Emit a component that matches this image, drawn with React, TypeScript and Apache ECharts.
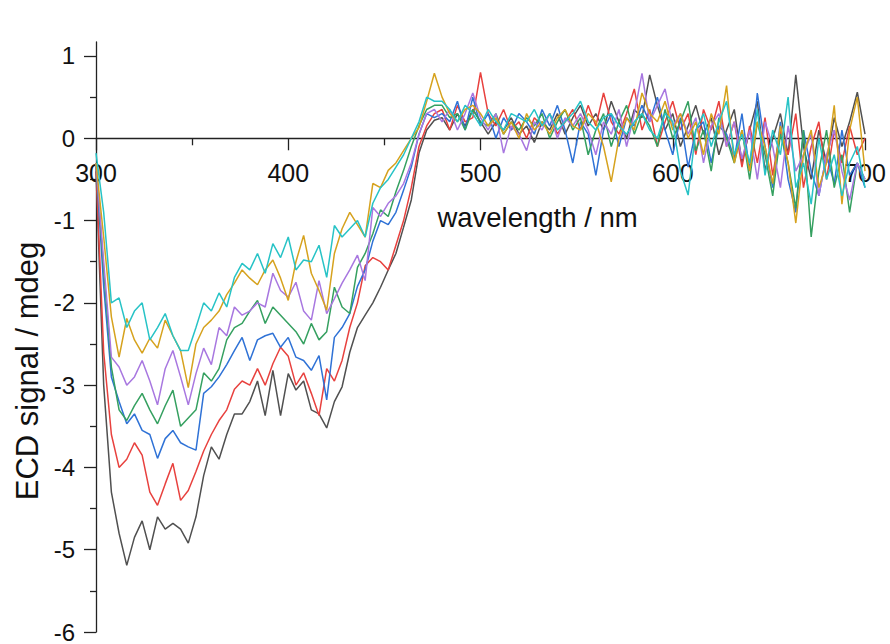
import React, { useEffect, useRef } from "react";
import * as echarts from "echarts";

const wavelengths = [
  300, 304, 308, 312, 316, 320, 324, 328, 332, 336, 340, 344, 348, 352, 356, 360, 364, 368, 372, 376,
  380, 384, 388, 392, 396, 400, 404, 408, 412, 416, 420, 424, 428, 432, 436, 440, 444, 448, 452, 456,
  460, 464, 468, 472, 476, 480, 484, 488, 492, 496, 500, 504, 508, 512, 516, 520, 524, 528, 532, 536,
  540, 544, 548, 552, 556, 560, 564, 568, 572, 576, 580, 584, 588, 592, 596, 600, 604, 608, 612, 616,
  620, 624, 628, 632, 636, 640, 644, 648, 652, 656, 660, 664, 668, 672, 676, 680, 684, 688, 692, 696, 700,
];

const xTicks = [300, 400, 500, 600, 700];
const yTicks = [-6, -5, -4, -3, -2, -1, 0, 1];
const yMinorTicks = [-5.5, -4.5, -3.5, -2.5, -1.5, -0.5, 0.5];

const seriesBlack = [
  -0.4, -3.0, -4.3, -4.8, -5.19, -4.85, -4.65, -5.0, -4.6, -4.75, -4.68, -4.75, -4.92, -4.6, -4.1,
  -3.75, -3.9, -3.6, -3.35, -3.35, -3.2, -2.95, -3.37, -2.82, -3.37, -2.86, -3.06, -2.95, -3.3, -3.35,
  -3.52, -3.2, -3.02, -2.6, -2.3, -2.15, -2.0, -1.81, -1.6, -1.4, -1.08, -0.75, -0.18, 0.1, 0.22,
  0.25, 0.1, 0.3, 0.15, 0.35, 0.2, 0.05, 0.2, 0.1, 0.25,
  0.05, 0.15, -0.05, 0.2, 0.1, 0.3, 0.05, 0.25, 0.4, 0.15,
  0.3, 0.1, 0.45, 0.2, 0.0, 0.35, 0.25, 0.77, 0.4, 0.1,
  0.3, -0.1, 0.15, 0.4, 0.05, 0.25, -0.2, 0.1, 0.35, -0.3,
  0.1, 0.45, -0.4, 0.0, 0.3, -0.2, 0.77, -0.1, -0.5, 0.1,
  -0.3, 0.25, -0.1, 0.2, 0.56, 0.05,
];

const seriesRed = [
  -0.35, -2.6, -3.6, -4.0, -3.9, -3.7, -3.85, -4.3, -4.46, -4.2, -3.95, -4.4, -4.28, -4.05, -3.8,
  -3.6, -3.43, -3.3, -3.05, -2.95, -3.0, -2.8, -3.0, -2.74, -2.54, -2.65, -3.0, -2.85, -3.1, -3.37,
  -2.8, -2.95, -2.7, -2.3, -2.0, -1.55, -1.45, -1.5, -1.6, -1.3, -1.0, -0.6, -0.1, 0.15, 0.3,
  0.35, 0.1, 0.4, 0.2, 0.25, 0.8, 0.3, 0.15, 0.35, 0.1,
  0.2, 0.0, 0.25, 0.15, 0.3, 0.05, 0.2, 0.35, 0.1, 0.4,
  0.15, 0.55, 0.2, 0.05, 0.3, 0.6, 0.1, 0.35, -0.1, 0.2,
  0.45, 0.1, 0.3, -0.2, 0.35, 0.1, 0.45, -0.1, 0.2, -0.35,
  0.15, -0.3, 0.25, -0.45, 0.1, -0.2, 0.3, -0.6, -0.1, 0.2,
  -0.5, 0.1, -0.3, 0.15, -0.2, 0.0,
];

const seriesBlue = [
  -0.3, -1.8, -2.9, -3.2, -3.47, -3.35, -3.55, -3.6, -3.89, -3.65, -3.55, -3.7, -3.75, -3.79, -3.1,
  -3.02, -2.9, -2.75, -2.58, -2.42, -2.7, -2.45, -2.4, -2.37, -2.54, -2.42, -2.66, -2.7, -2.82, -2.64,
  -3.18, -2.42, -2.3, -2.13, -1.8, -1.6, -1.25, -1.0, -1.05, -0.9, -0.63, -0.35, 0.05, 0.3, 0.25,
  0.3, 0.2, 0.45, 0.1, 0.5, 0.15, 0.3, 0.0, 0.25, 0.1,
  0.3, 0.2, 0.05, 0.35, 0.15, 0.4, 0.1, -0.3, 0.2, 0.05,
  -0.45, 0.1, 0.3, -0.1, 0.25, 0.15, 0.4, 0.2, 0.5, 0.1,
  -0.2, 0.25, -0.35, 0.1, 0.2, -0.3, 0.15, 0.05, -0.25, 0.3,
  -0.4, 0.55, -0.1, -0.6, 0.2, -0.5, -0.9, 0.1, -0.4, -0.7,
  -0.2, -0.55, 0.1, -0.45, -0.3, -0.6,
];

const seriesGreen = [
  -0.3, -1.6, -2.78, -3.3, -3.43, -3.25, -3.1, -3.3, -3.47, -3.25, -3.06, -3.5, -3.4, -3.3, -2.85,
  -2.95, -2.8, -2.45, -2.3, -2.25, -2.1, -1.97, -2.25, -2.05, -2.15, -2.25, -2.35, -2.5, -2.25, -2.45,
  -2.35, -1.81, -2.05, -2.13, -1.57, -1.4, -1.16, -0.87, -0.95, -0.65, -0.39, -0.1, 0.15, 0.35, 0.4,
  0.4, 0.25, 0.3, 0.1, 0.35, 0.2, 0.15, 0.3, 0.05, 0.2,
  0.1, 0.25, 0.15, 0.3, 0.0, 0.2, 0.35, 0.1, 0.25, -0.2,
  0.1, 0.3, -0.1, 0.2, 0.4, 0.05, 0.3, 0.15, -0.1, 0.35,
  0.0, 0.2, 0.45, -0.15, 0.1, -0.4, 0.25, 0.0, -0.3, 0.1,
  -0.5, 0.2, -0.2, -0.7, 0.05, -0.3, -0.85, 0.1, -1.2, -0.4,
  0.1, -0.6, -0.2, -0.9, -0.3, -0.5,
];

const seriesPurple = [
  -0.3, -1.5, -2.66, -2.78, -3.0, -2.9, -2.7, -2.95, -3.24, -2.8, -2.58, -2.9, -3.24, -2.86, -2.55,
  -2.75, -2.3, -2.4, -2.05, -2.15, -2.1, -2.0, -2.05, -1.64, -1.85, -1.93, -1.75, -2.1, -2.21, -1.73,
  -2.13, -1.95, -1.76, -1.6, -1.42, -1.73, -0.84, -0.95, -0.79, -0.7, -0.55, -0.3, 0.05, 0.3, 0.35,
  0.2, 0.35, 0.1, 0.3, 0.55, 0.25, 0.1, 0.3, -0.18, 0.15,
  0.05, -0.15, 0.2, 0.1, 0.3, 0.0, 0.25, 0.15, 0.3, 0.1,
  -0.2, 0.2, 0.05, 0.35, -0.1, 0.3, 0.79, 0.2, 0.4, 0.6,
  0.15, 0.3, 0.05, 0.25, -0.3, 0.15, 0.3, -0.1, 0.2, -0.25,
  0.1, -0.5, 0.2, -0.1, -0.6, 0.15, -0.4, -0.2, 0.05, -0.7,
  -0.2, 0.1, -0.4, -0.75, -0.3, -0.5,
];

const seriesGold = [
  -0.3, -1.2, -2.17, -2.66, -2.19, -2.45, -2.61, -2.43, -2.55, -2.21, -2.4, -2.58, -3.03, -2.5, -2.3,
  -2.21, -2.1, -1.9, -1.76, -1.6, -1.7, -1.78, -1.6, -1.48, -1.7, -1.97, -1.5, -1.18, -1.64, -1.85,
  -2.09, -1.4, -1.1, -0.9, -1.05, -1.2, -0.55, -0.6, -0.39, -0.3, -0.15, 0.0, 0.13, 0.45, 0.79,
  0.5, 0.3, 0.2, 0.35, 0.4, 0.3, 0.15, 0.25, 0.05, 0.2,
  0.0, 0.3, 0.1, 0.2, 0.05, 0.25, 0.35, 0.15, 0.1, 0.3,
  0.2, -0.1, -0.53, 0.0, 0.25, 0.1, 0.55, 0.3, 0.2, 0.45,
  0.1, 0.3, 0.0, 0.2, -0.2, 0.3, 0.05, 0.64, -0.3, 0.1,
  -0.4, 0.2, -0.1, -0.55, 0.15, -0.3, -1.03, -0.2, 0.1, -0.6,
  -0.3, 0.4, -0.8, 0.1, 0.5, -0.4,
];

const seriesCyan = [
  -0.18, -0.9, -2.0, -1.94, -2.3, -2.1, -2.0, -2.45, -2.3, -2.13, -2.4, -2.58, -2.58, -2.3, -2.0,
  -2.1, -1.88, -2.05, -1.69, -1.52, -1.6, -1.4, -1.64, -1.28, -1.45, -1.2, -1.6, -1.48, -1.5, -1.3,
  -1.69, -1.06, -1.2, -1.1, -1.0, -1.2, -0.79, -0.6, -0.5, -0.35, -0.2, 0.0, 0.2, 0.5, 0.45,
  0.45, 0.35, 0.2, 0.4, 0.3, 0.15, 0.35, 0.2, 0.1, 0.3,
  0.25, 0.2, 0.35, 0.15, 0.3, 0.1, 0.2, 0.3, 0.45, 0.2,
  0.1, 0.25, 0.3, 0.15, 0.05, 0.2, 0.3, 0.1, 0.0, 0.3,
  0.2, -0.4, -0.69, 0.1, 0.3, -0.1, 0.2, 0.45, -0.2, 0.05,
  -0.3, 0.35, -0.45, 0.1, -0.2, 0.5, -0.6, -0.3, -0.8, 0.0,
  -0.5, -0.2, -0.7, -0.3, -0.1, -0.6,
];

const seriesList = [
  { name: "s1", values: seriesBlack, color: "#505050" },
  { name: "s2", values: seriesRed, color: "#e8413e" },
  { name: "s3", values: seriesBlue, color: "#2f72d6" },
  { name: "s4", values: seriesGreen, color: "#35a060" },
  { name: "s5", values: seriesPurple, color: "#a877e0" },
  { name: "s6", values: seriesGold, color: "#d6a21e" },
  { name: "s7", values: seriesCyan, color: "#27c3c6" },
];

const FONT = "'Liberation Sans', Arial, sans-serif";
const Y_MIN = -6;
const Y_MAX = 1.17;
const GRID_TOP = 42;
const GRID_BOTTOM = 12;
const CHART_H = 644;

export default function App() {
  const ref = useRef<HTMLDivElement>(null);
  useEffect(() => {
    if (!ref.current) return;
    const chart = echarts.init(ref.current, null, { renderer: "svg" });
    const plotH = CHART_H - GRID_TOP - GRID_BOTTOM;
    // distance from the grid bottom up to the zero line, so the x axis sits at y = 0
    const zeroOffset = (-Y_MIN / (Y_MAX - Y_MIN)) * plotH;
    chart.setOption({
      animation: false,
      backgroundColor: "#ffffff",
      grid: {
        left: 96,
        right: 25,
        top: GRID_TOP,
        bottom: GRID_BOTTOM,
        containLabel: false,
        outerBoundsMode: "none",
      },
      xAxis: {
        type: "value",
        min: 300,
        max: 700,
        interval: 100,
        position: "bottom",
        offset: -zeroOffset,
        name: "wavelength / nm",
        nameLocation: "middle",
        nameGap: 65,
        nameTextStyle: { fontFamily: FONT, fontSize: 27.5, color: "#111", padding: [0, 0, 0, 114] },
        axisLine: { onZero: false, lineStyle: { color: "#222", width: 1.3 } },
        axisTick: { show: true, length: 12, inside: false, lineStyle: { color: "#222", width: 1.3 }, customValues: xTicks },
        minorTick: { show: true, splitNumber: 2, length: 7, lineStyle: { color: "#222", width: 1.3 } },
        axisLabel: { fontFamily: FONT, fontSize: 25, color: "#111", margin: 22, customValues: xTicks },
        splitLine: { show: false },
      },
      yAxis: [
        {
          type: "value",
          min: Y_MIN,
          max: Y_MAX,
          interval: 1,
          name: "ECD signal / mdeg",
          nameLocation: "middle",
          nameGap: 53,
          nameTextStyle: { fontFamily: FONT, fontSize: 31, color: "#111", padding: [0, 68, 0, 0] },
          axisLine: { show: true, onZero: false, lineStyle: { color: "#222", width: 1.3 } },
          axisTick: { show: true, length: 12, lineStyle: { color: "#222", width: 1.3 }, customValues: yTicks },
          axisLabel: {
            fontFamily: FONT,
            fontSize: 24,
            lineHeight: 20,
            color: "#111",
            margin: 21,
            customValues: yTicks,
          },
          splitLine: { show: false },
        },
        {
          type: "value",
          min: Y_MIN,
          max: Y_MAX,
          interval: 1,
          position: "left",
          axisLine: { show: false, onZero: false },
          axisTick: { show: true, length: 6, lineStyle: { color: "#222", width: 1.3 }, customValues: yMinorTicks },
          axisLabel: { show: false },
          splitLine: { show: false },
        },
      ],
      series: seriesList.map((s) => ({
        type: "line",
        name: s.name,
        yAxisIndex: 0,
        data: wavelengths.map((w, i) => [w, s.values[i]]),
        symbol: "none",
        showSymbol: false,
        lineStyle: { color: s.color, width: 1.5 },
        itemStyle: { color: s.color },
        emphasis: { disabled: true },
      })),
    });
    return () => chart.dispose();
  }, []);
  return (
    <div
      ref={ref}
      style={{ position: "absolute", left: 0, top: 0, width: 890, height: 644, background: "#fff" }}
    />
  );
}
